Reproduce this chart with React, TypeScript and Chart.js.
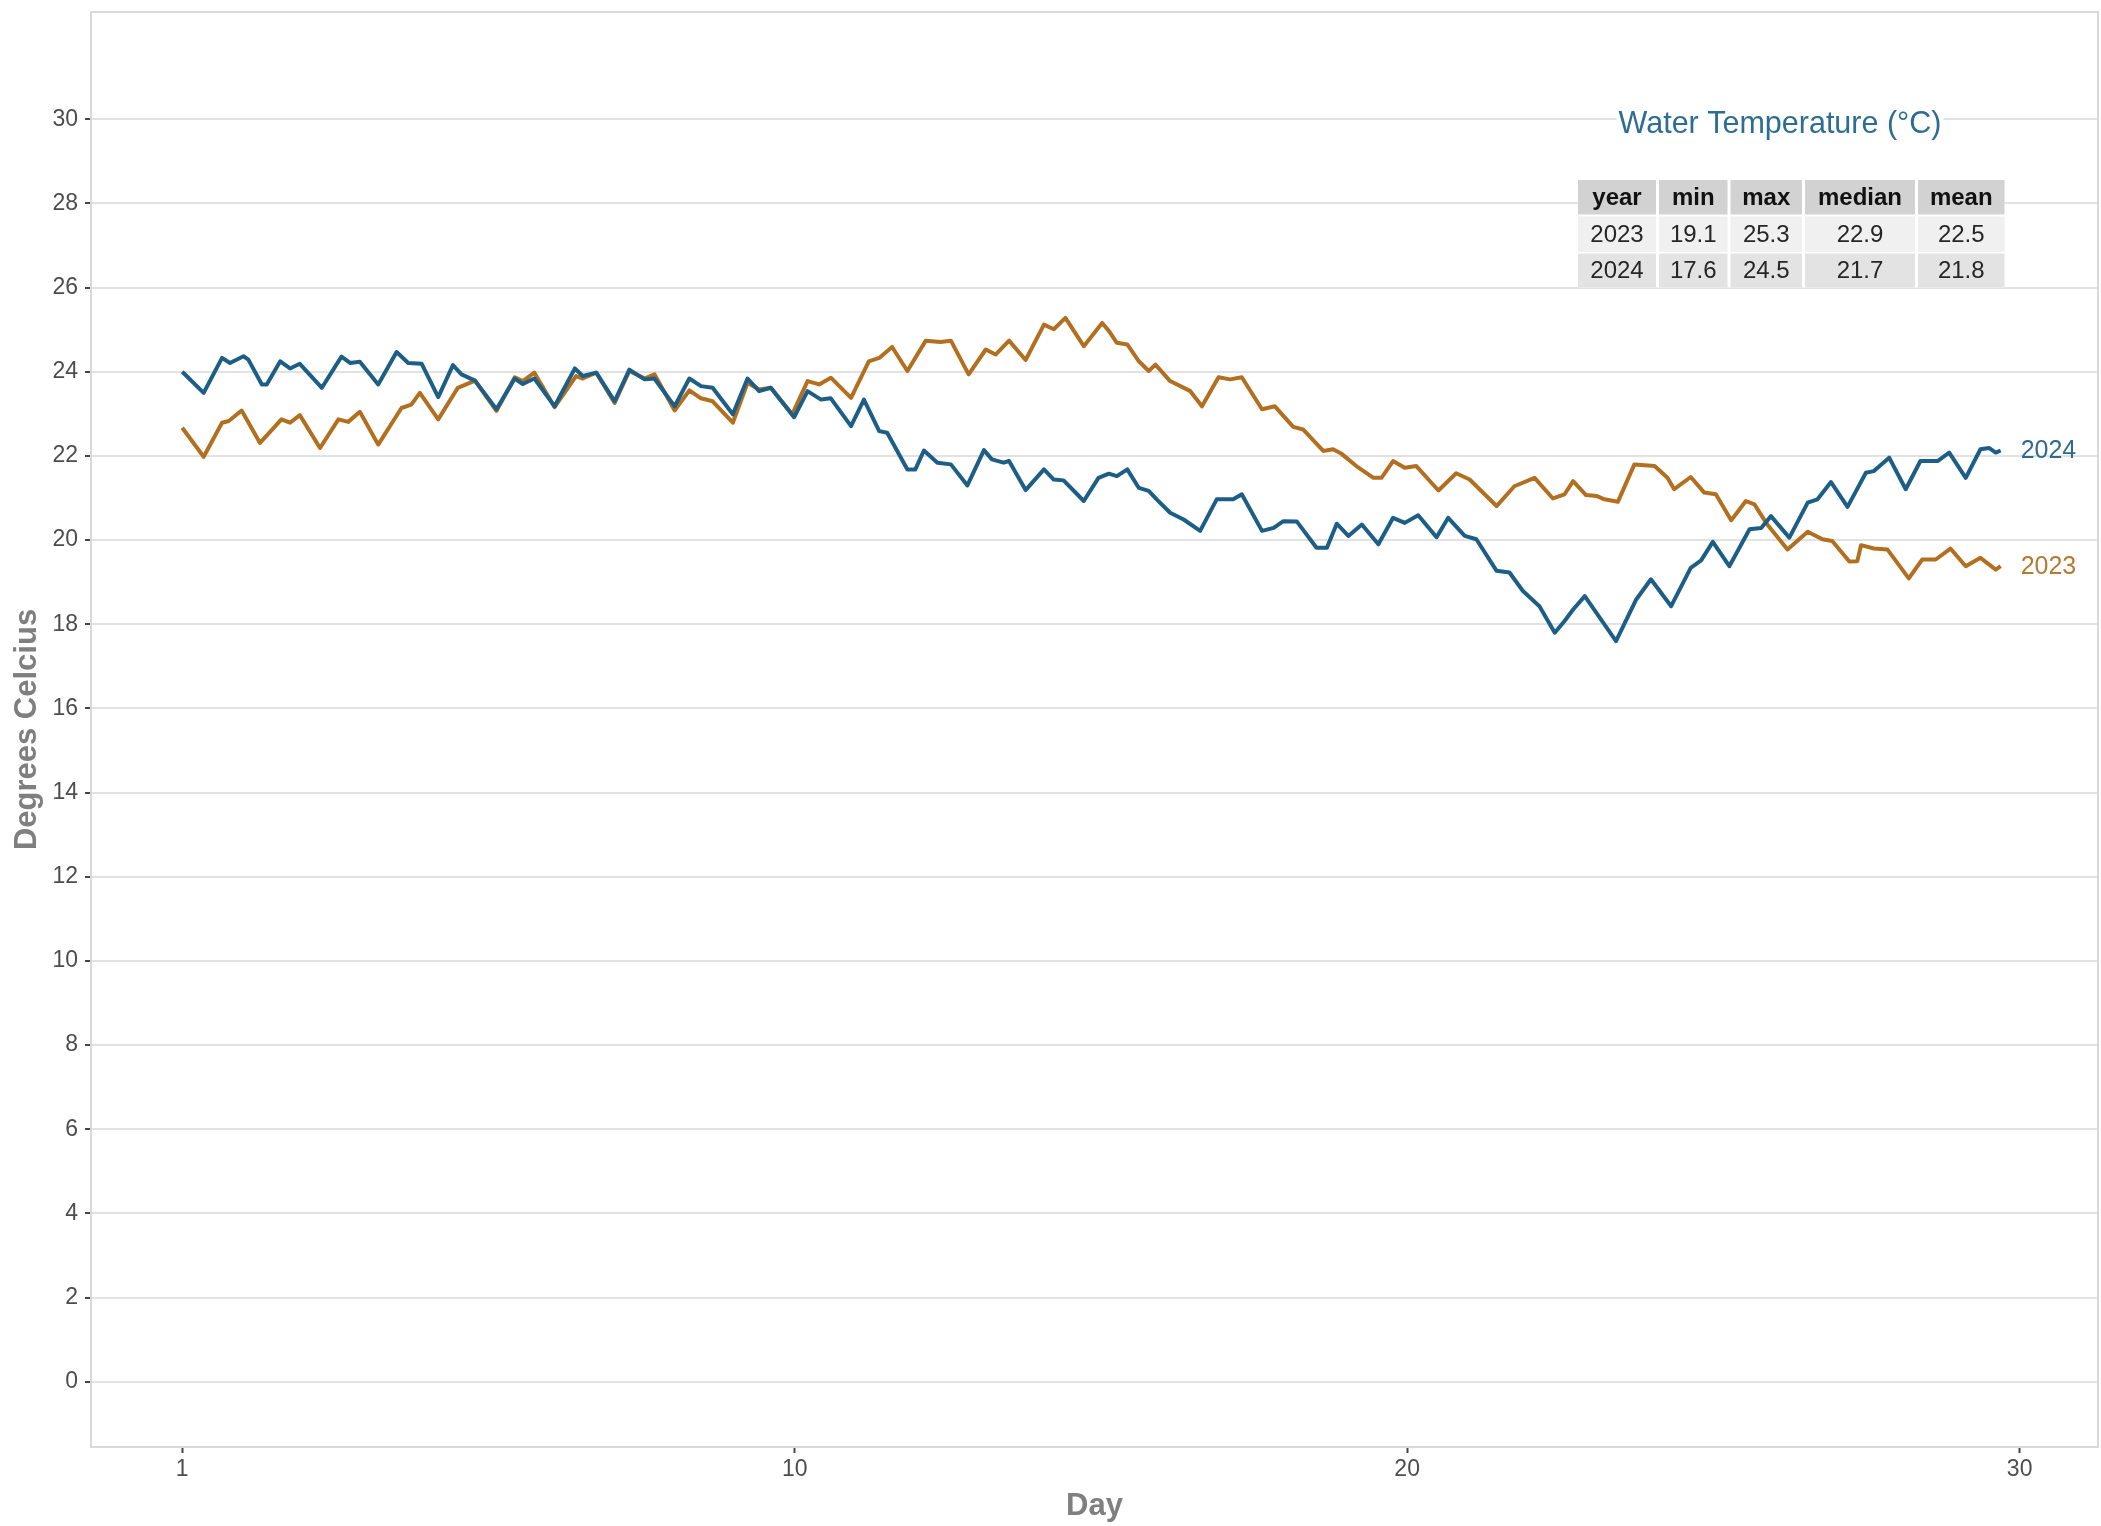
import React, { useEffect, useRef } from "react";
import { Chart, registerables } from "chart.js";

Chart.register(...registerables);

// ---------------- data ----------------
const seriesNames = ["2024", "2023"];

const days2024 = [
  0.0, 0.35, 0.65, 0.78, 1.0, 1.08, 1.3, 1.38, 1.6, 1.76, 1.92, 2.28, 2.6, 2.74, 2.9, 3.2, 3.5, 3.69, 3.91, 4.18,
  4.42, 4.56, 4.78, 5.13, 5.43, 5.56, 5.75, 6.08, 6.41, 6.54, 6.76, 7.06, 7.3, 7.55,
  7.71, 8.04, 8.28, 8.47, 8.66, 8.99, 9.23, 9.42, 9.61, 9.99, 10.21, 10.43, 10.59, 10.92, 11.13, 11.38, 11.51, 11.84,
  11.97, 12.11, 12.33, 12.55, 12.82, 13.09, 13.22, 13.41, 13.5, 13.77, 14.07, 14.23, 14.39, 14.72, 14.96, 15.13,
  15.26, 15.43, 15.62, 15.78, 15.91, 16.13, 16.35, 16.62, 16.89, 17.16, 17.3, 17.63, 17.82, 17.98, 18.2, 18.52, 18.69,
  18.85, 19.04, 19.26, 19.53, 19.77, 19.96, 20.18, 20.48, 20.67, 20.94, 21.13, 21.46, 21.67, 21.89, 22.16, 22.41, 22.57, 22.71,
  22.9, 23.41, 23.74, 23.98, 24.31, 24.63, 24.8, 24.99, 25.26, 25.59, 25.78, 25.94, 26.24, 26.54, 26.7, 26.92, 27.19,
  27.49, 27.62, 27.87, 28.14, 28.38, 28.66, 28.85, 29.12, 29.36, 29.5, 29.61, 29.69,
];
const temps2024 = [
  24.0, 23.5, 24.33, 24.21, 24.37, 24.29, 23.7, 23.7, 24.25, 24.08, 24.19, 23.62, 24.36, 24.21, 24.24, 23.7, 24.47, 24.21, 24.19, 23.4,
  24.16, 23.94, 23.79, 23.11, 23.84, 23.71, 23.84, 23.18, 24.08, 23.9, 23.98, 23.3, 24.05, 23.82,
  23.84, 23.18, 23.84, 23.66, 23.62, 22.99, 23.84, 23.54, 23.62, 22.92, 23.54, 23.34, 23.37, 22.71, 23.34, 22.59, 22.55, 21.68,
  21.68, 22.13, 21.84, 21.8, 21.3, 22.14, 21.92, 21.84, 21.88, 21.19, 21.68, 21.44, 21.42, 20.93, 21.48, 21.58,
  21.52, 21.68, 21.24, 21.17, 20.97, 20.65, 20.49, 20.22, 20.97, 20.97, 21.09, 20.22, 20.29, 20.45, 20.44, 19.82, 19.82,
  20.39, 20.1, 20.37, 19.9, 20.53, 20.41, 20.59, 20.07, 20.53, 20.1, 20.02, 19.27, 19.23, 18.79, 18.43, 17.8, 18.08, 18.35,
  18.67, 17.6, 18.59, 19.07, 18.43, 19.34, 19.52, 19.96, 19.38, 20.26, 20.29, 20.57, 20.06, 20.89, 20.97, 21.38, 20.79,
  21.6, 21.64, 21.96, 21.21, 21.88, 21.88, 22.08, 21.48, 22.16, 22.19, 22.08, 22.13,
];

const days2023 = [
  0.0, 0.35, 0.65, 0.76, 0.97, 1.27, 1.62, 1.76, 1.92, 2.25, 2.55, 2.71, 2.9, 3.2, 3.58, 3.74, 3.88, 4.18, 4.5, 4.78,
  5.13, 5.43, 5.56, 5.75, 6.08, 6.43, 6.54, 6.76, 7.06, 7.3, 7.55,
  7.71, 8.04, 8.28, 8.47, 8.66, 8.99, 9.23, 9.42, 9.61, 9.96, 10.21, 10.4, 10.59, 10.92, 11.21, 11.38, 11.59, 11.84,
  12.14, 12.38, 12.55, 12.84, 13.12, 13.28, 13.5, 13.77, 14.07, 14.23, 14.42, 14.72, 15.02, 15.13,
  15.26, 15.43, 15.62, 15.78, 15.89, 16.13, 16.46, 16.65, 16.92, 17.11, 17.3, 17.63, 17.84, 18.14, 18.3, 18.63, 18.79,
  18.93, 19.17, 19.45, 19.58, 19.77, 19.96, 20.15, 20.51, 20.8, 21.02, 21.46, 21.75, 22.08, 22.38, 22.57, 22.71,
  22.92, 23.09, 23.22, 23.44, 23.71, 24.04, 24.25, 24.36, 24.63, 24.85, 25.04, 25.29, 25.53, 25.67, 25.88, 26.21,
  26.54, 26.78, 26.94, 27.22, 27.35, 27.41, 27.62, 27.84, 28.19, 28.41, 28.63, 28.87, 29.12, 29.36, 29.61, 29.69,
];
const temps2023 = [
  22.67, 21.98, 22.79, 22.83, 23.08, 22.31, 22.87, 22.79, 22.97, 22.19, 22.87, 22.81, 23.05, 22.27, 23.14, 23.22, 23.5, 22.87, 23.62, 23.79,
  23.07, 23.87, 23.78, 23.98, 23.16, 23.9, 23.84, 23.98, 23.26, 24.02, 23.84,
  23.94, 23.08, 23.56, 23.37, 23.3, 22.79, 23.74, 23.58, 23.62, 22.99, 23.78, 23.7, 23.86, 23.38, 24.25, 24.33, 24.59, 24.02,
  24.74, 24.71, 24.74, 23.94, 24.53, 24.41, 24.74, 24.28, 25.12, 25.01, 25.28, 24.61, 25.16, 24.97,
  24.69, 24.65, 24.25, 24.02, 24.17, 23.78, 23.54, 23.18, 23.87, 23.82, 23.87, 23.11, 23.18, 22.69, 22.63, 22.12, 22.16,
  22.05, 21.76, 21.48, 21.48, 21.88, 21.72, 21.76, 21.18, 21.59, 21.44, 20.81, 21.28, 21.48, 20.99, 21.09, 21.4,
  21.07, 21.05, 20.97, 20.91, 21.8, 21.76, 21.48, 21.21, 21.5, 21.13, 21.09, 20.47, 20.93, 20.85, 20.37, 19.78,
  20.2, 20.02, 19.98, 19.49, 19.5, 19.88, 19.8, 19.78, 19.09, 19.54, 19.54, 19.8, 19.38, 19.58, 19.3, 19.38,
];

const xTickValues = [0, 10, 20, 30];
const xTickLabels = ["1", "10", "20", "30"];
const xLimits = [0, 29.79];
const yTickValues = [0, 2, 4, 6, 8, 10, 12, 14, 16, 18, 20, 22, 24, 26, 28, 30];
const yLimits = [0, 31];

const xTitle = "Day";
const yTitle = "Degrees Celcius";

const tableTitle = "Water Temperature (°C)";
const tableHeader = ["year", "min", "max", "median", "mean"];
const tableRows = [
  ["2023", "19.1", "25.3", "22.9", "22.5"],
  ["2024", "17.6", "24.5", "21.7", "21.8"],
];

// ---------------- styles ----------------
const FONT = "'Liberation Sans', Arial, Helvetica, sans-serif";
const COLORS: Record<string, string> = { "2024": "#1d5e87", "2023": "#b36f20" };
const LABEL_COLORS: Record<string, string> = { "2024": "#2e6b8d", "2023": "#b37a35" };

const seriesList = [
  { name: seriesNames[0], days: days2024, temps: temps2024 },
  { name: seriesNames[1], days: days2023, temps: temps2023 },
];

const xMin = xLimits[0] - 0.05 * (xLimits[1] - xLimits[0]);
const xMax = xLimits[1] + 0.05 * (xLimits[1] - xLimits[0]);
const yMin = yLimits[0] - 0.05 * (yLimits[1] - yLimits[0]);
const yMax = yLimits[1] + 0.05 * (yLimits[1] - yLimits[0]);

const overlayPlugin = {
  id: "overlay",
  beforeDatasetsDraw(chart: any) {
    const { ctx, chartArea } = chart;
    ctx.save();
    ctx.strokeStyle = "#d9d9d9";
    ctx.lineWidth = 2;
    ctx.strokeRect(chartArea.left, chartArea.top, chartArea.right - chartArea.left, chartArea.bottom - chartArea.top);
    ctx.restore();
  },
  afterDatasetsDraw(chart: any) {
    const { ctx } = chart;
    const xs = chart.scales.x;
    const ys = chart.scales.y;
    ctx.save();
    ctx.font = `25px ${FONT}`;
    ctx.textAlign = "left";
    ctx.textBaseline = "middle";
    seriesList.forEach((s) => {
      const lx = s.days[s.days.length - 1];
      const ly = s.temps[s.temps.length - 1];
      ctx.fillStyle = LABEL_COLORS[s.name];
      ctx.fillText(s.name, xs.getPixelForValue(lx) + 20, ys.getPixelForValue(ly) + 1);
    });
    ctx.restore();
  },
  afterDraw(chart: any) {
    const { ctx } = chart;
    ctx.save();
    // table title
    ctx.font = `30.5px ${FONT}`;
    const tw = ctx.measureText(tableTitle).width;
    const cx = 1780;
    const cy = 125;
    ctx.fillStyle = "#ffffff";
    ctx.fillRect(cx - tw / 2 - 2, cy - 16, tw + 4, 32);
    ctx.fillStyle = "#2d6d93";
    ctx.textAlign = "center";
    ctx.textBaseline = "middle";
    ctx.fillText(tableTitle, cx, cy);

    // table
    const colW = [78, 68.5, 71.5, 110, 86.5];
    const gap = 3;
    const left = 1578;
    const rowTops = [180, 216.5, 253.5];
    const rowH = [34.5, 35.5, 34];
    const totalW = colW.reduce((a, b) => a + b, 0) + gap * (colW.length - 1);
    ctx.fillStyle = "#ffffff";
    ctx.fillRect(left, rowTops[0], totalW, rowTops[2] + rowH[2] - rowTops[0]);
    const fills = ["#d2d2d2", "#f0f0f0", "#e3e3e3"];
    const rows = [tableHeader, ...tableRows];
    rows.forEach((row, ri) => {
      let x = left;
      row.forEach((cell, ci) => {
        ctx.fillStyle = fills[ri];
        ctx.fillRect(x, rowTops[ri], colW[ci], rowH[ri]);
        ctx.fillStyle = ri === 0 ? "#111111" : "#262626";
        ctx.font = ri === 0 ? `bold 24px ${FONT}` : `24px ${FONT}`;
        ctx.textAlign = "center";
        ctx.textBaseline = "middle";
        ctx.fillText(cell, x + colW[ci] / 2, rowTops[ri] + rowH[ri] / 2 + 1);
        x += colW[ci] + gap;
      });
    });
    ctx.restore();
  },
};

export default function App() {
  const canvasRef = useRef<HTMLCanvasElement | null>(null);

  useEffect(() => {
    if (!canvasRef.current) return;
    const chart = new Chart(canvasRef.current, {
      type: "line",
      data: {
        datasets: seriesList.map((s) => ({
          label: s.name,
          data: s.days.map((d, i) => ({ x: d, y: s.temps[i] })),
          borderColor: COLORS[s.name],
          backgroundColor: COLORS[s.name],
          borderWidth: 4,
          pointRadius: 0,
          tension: 0,
          fill: false,
          borderJoinStyle: "round" as const,
        })),
      },
      options: {
        animation: false,
        responsive: false,
        events: [],
        layout: { padding: { top: 12, right: 3, left: 0, bottom: 0 } },
        plugins: {
          legend: { display: false },
          tooltip: { enabled: false },
          title: { display: false },
        },
        scales: {
          x: {
            type: "linear",
            position: "bottom",
            min: xMin,
            max: xMax,
            afterBuildTicks: (s: any) => {
              s.ticks = xTickValues.map((v) => ({ value: v }));
            },
            afterFit: (s: any) => {
              s.height = 79;
              s.paddingLeft = 0;
              s.paddingRight = 0;
            },
            ticks: {
              autoSkip: false,
              maxRotation: 0,
              padding: 3,
              color: "#4d4d4d",
              font: { family: FONT, size: 23 },
              callback: (v: any) => {
                const i = xTickValues.indexOf(Number(v));
                return i >= 0 ? xTickLabels[i] : "";
              },
            },
            grid: {
              drawOnChartArea: false,
              drawTicks: true,
              tickLength: 6,
              tickWidth: 2,
              tickColor: "#444444",
            },
            border: { display: false },
            title: {
              display: true,
              text: xTitle,
              color: "#7f7f7f",
              font: { family: FONT, size: 31, weight: "bold" },
              padding: { top: 0, bottom: 1 },
            },
          },
          y: {
            type: "linear",
            min: yMin,
            max: yMax,
            afterBuildTicks: (s: any) => {
              s.ticks = yTickValues.map((v) => ({ value: v }));
            },
            afterFit: (s: any) => {
              s.width = 91;
              s.paddingTop = 0;
              s.paddingBottom = 0;
            },
            ticks: {
              autoSkip: false,
              padding: 7,
              color: "#4d4d4d",
              font: { family: FONT, size: 23 },
            },
            grid: {
              color: "#e2e2e2",
              lineWidth: 2,
              drawTicks: true,
              tickLength: 6,
              tickWidth: 2,
              tickColor: "#444444",
            },
            border: { display: false },
            title: {
              display: true,
              text: yTitle,
              color: "#7f7f7f",
              font: { family: FONT, size: 31, weight: "bold" },
              padding: { top: 9, bottom: 0 },
            },
          },
        },
      },
      plugins: [overlayPlugin],
    } as any);
    return () => chart.destroy();
  }, []);

  return (
    <div style={{ position: "fixed", left: 0, top: 0, width: 2101, height: 1526, background: "#ffffff" }}>
      <canvas ref={canvasRef} width={2101} height={1526} style={{ display: "block", width: 2101, height: 1526 }} />
    </div>
  );
}
